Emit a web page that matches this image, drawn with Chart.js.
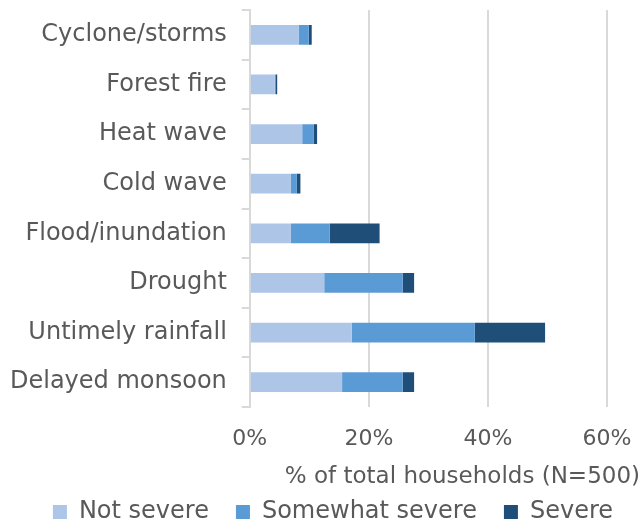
<!DOCTYPE html>
<html>
<head>
<meta charset="utf-8">
<script src="https://cdn.jsdelivr.net/npm/chart.js@4"></script>
<style>
  html, body { margin: 0; padding: 0; background: #fff; }
  #wrap { width: 640px; height: 522px; }
</style>
</head>
<body>
<div id="wrap"><canvas id="chart"></canvas></div>
<script>
const categories = ['Cyclone/storms', 'Forest fire', 'Heat wave', 'Cold wave', 'Flood/inundation', 'Drought', 'Untimely rainfall', 'Delayed monsoon'];
const notSevere = [8.2, 4.2, 8.8, 6.9, 6.9, 12.5, 17.1, 15.5];
const somewhatSevere = [1.7, 0.2, 1.9, 1.0, 6.5, 13.2, 20.7, 10.2];
const severe = [0.5, 0.2, 0.6, 0.6, 8.4, 1.9, 11.8, 1.9];
const xTicks = [0, 20, 40, 60];

const FONT = 'DejaVu Sans';
const GREY = '#595959';

const ctx = document.getElementById('chart');
new Chart(ctx, {
  type: 'bar',
  data: {
    labels: categories,
    datasets: [
      { label: 'Not severe', data: notSevere, backgroundColor: '#adc5e7' },
      { label: 'Somewhat severe', data: somewhatSevere, backgroundColor: '#5b9bd5' },
      { label: 'Severe', data: severe, backgroundColor: '#1f4e79' }
    ]
  },
  options: {
    indexAxis: 'y',
    responsive: true,
    maintainAspectRatio: false,
    animation: false,
    datasets: {
      bar: { barPercentage: 0.8, categoryPercentage: 0.5 }
    },
    layout: { padding: { top: 10, right: 0, left: -5, bottom: -12 } },
    scales: {
      x: {
        stacked: true,
        min: 0,
        max: 60,
        afterBuildTicks: axis => { axis.ticks = xTicks.map(v => ({ value: v })); },
        afterFit: axis => { axis.paddingRight = 33; },
        ticks: {
          callback: v => v + '%',
          color: GREY,
          font: { family: FONT, size: 22 },
          padding: 19
        },
        grid: { color: '#d9d9d9', lineWidth: 2, drawTicks: false },
        border: { display: false }
      },
      y: {
        stacked: true,
        afterFit: axis => { axis.paddingTop = 0; axis.paddingBottom = 0; },
        ticks: {
          color: GREY,
          font: { family: FONT, size: 24 },
          padding: 15
        },
        grid: {
          offset: true,
          drawOnChartArea: false,
          drawTicks: true,
          tickLength: 8,
          color: '#d9d9d9',
          lineWidth: 2
        },
        border: { display: true, color: '#d9d9d9', width: 2 }
      }
    },
    plugins: {
      title: {
        display: true,
        position: 'bottom',
        align: 'end',
        weight: 500,
        text: '% of total households (N=500)',
        color: GREY,
        font: { family: FONT, size: 23, weight: 'normal' },
        padding: { top: -8, bottom: -18 }
      },
      legend: {
        position: 'bottom',
        align: 'end',
        labels: {
          color: GREY,
          font: { family: FONT, size: 24 },
          boxWidth: 14,
          boxHeight: 14,
          padding: 27
        }
      },
      tooltip: { enabled: false }
    }
  }
});
</script>
</body>
</html>
